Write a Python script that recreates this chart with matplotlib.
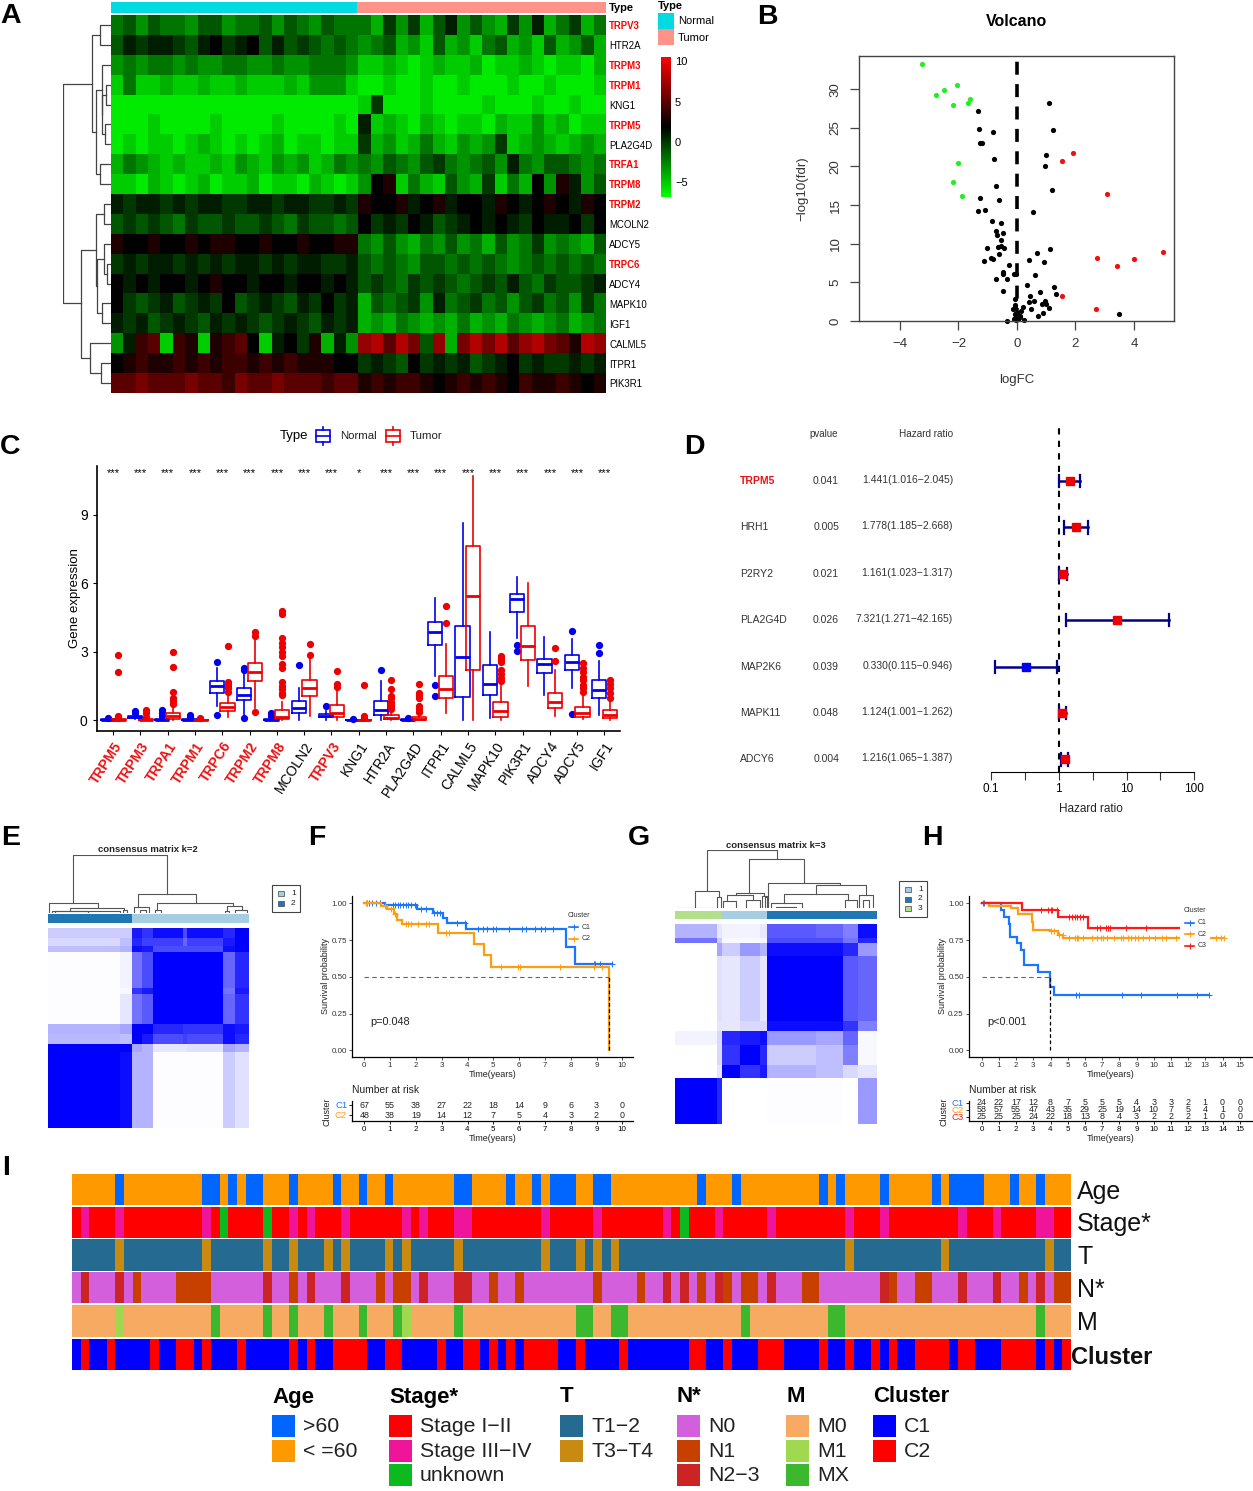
"""Multi-panel figure: heatmap, volcano, boxplots, forest, consensus maps, KM curves, clinical tracks."""
import numpy as np
import matplotlib
matplotlib.use("Agg")
import matplotlib.pyplot as plt
from matplotlib.colors import LinearSegmentedColormap, ListedColormap
from matplotlib.patches import Rectangle

plt.rcParams["font.family"] = ["Liberation Sans", "DejaVu Sans"]

W, H = 1253, 1491

# ---- A: heatmap
HEAT_GENES = ["TRPV3", "HTR2A", "TRPM3", "TRPM1", "KNG1", "TRPM5", "PLA2G4D", "TRFA1", "TRPM8", "TRPM2",
              "MCOLN2", "ADCY5", "TRPC6", "ADCY4", "MAPK10", "IGF1", "CALML5", "ITPR1", "PIK3R1"]
HEAT_RED = ["TRPV3", "TRPM3", "TRPM1", "TRPM5", "TRFA1", "TRPM8", "TRPM2", "TRPC6"]
HEAT = [
    [-2, -1, -3, -1, -2, -2, -3, -1, -1, -3, -2, -2, -1, -3, -1, -2, -3, -1, -2, -2, -2, -4, 0, -3, 0, -4, -1, 1, -3, -1, -3, -4, 0, -3, 1, -4, -2, 0, -4, -2],
    [-1, 1, 0, 1, 1, 0, -1, 1, 2, 0, 1, 2, -1, 1, -1, 0, -1, -2, -1, -2, -3, -2, -1, -4, -3, -5, -1, -4, -3, -5, -2, -1, -4, -3, -5, -1, -4, -3, -1, -4],
    [-3, -2, -3, -2, -2, -3, -2, -3, -3, -2, -2, -3, -3, -2, -3, -3, -2, -2, -2, -3, -5, -5, -4, -5, -6, -5, -4, -5, -5, -4, -6, -5, -5, -4, -5, -6, -5, -5, -6, -4],
    [-5, -2, -5, -5, -4, -5, -5, -4, -5, -5, -4, -5, -5, -5, -4, -5, -3, -3, -3, -5, -6, -6, -5, -6, -6, -5, -6, -6, -5, -6, -6, -6, -5, -6, -6, -5, -6, -6, -6, -5],
    [-6, -6, -6, -6, -6, -6, -6, -6, -6, -6, -6, -6, -6, -6, -6, -6, -6, -6, -6, -6, -5, 0, -6, -6, -6, -5, -6, -6, -6, -6, -5, -6, -6, -6, -5, -6, -6, -5, -6, -6],
    [-6, -6, -6, -5, -6, -6, -6, -6, -5, -6, -6, -6, -6, -5, -6, -6, -6, -6, -5, -6, 1, -5, -4, -5, -6, -4, -5, -6, -5, -5, -6, -4, -5, -5, -3, -5, -4, -6, -5, -5],
    [-6, -5, -6, -5, -5, -6, -5, -4, -5, -6, -5, -6, -5, -4, -6, -5, -5, -6, -5, -5, 0, -4, -3, -5, -4, -2, -4, -5, -3, -4, -3, 0, -5, -4, -3, -4, -5, -4, -3, -4],
    [-4, -2, -3, -4, -5, -4, -5, -5, -4, -5, -3, -4, -5, -3, -4, -3, -5, -4, -2, -3, -2, -3, -1, -2, -3, -1, 0, -2, -3, -2, -1, -3, 1, -2, -3, -1, -1, -2, -3, -2],
    [-5, -5, -6, -4, -5, -6, -5, -4, -6, -5, -5, -4, -6, -5, -5, -6, -4, -5, -6, -5, -3, 2, 3, -5, -2, -4, -5, -1, -3, -4, 0, -5, -2, -4, 2, -3, 3, 1, -3, -1],
    [1, 0, 1, 1, 0, 1, 0, 1, 1, 0, 0, 1, 1, 0, 1, 1, 0, 0, 1, 0, 3, 2, 2, 3, 1, 2, 3, 1, 2, 2, 1, 3, 2, 1, 2, 3, 2, 1, 3, 2],
    [-1, 0, -1, 0, -1, -2, 0, -1, -1, 0, -1, -1, 0, -1, -2, 0, -1, -1, -2, -1, 2, 0, 1, 0, 2, 1, -1, 0, 1, 2, 1, 2, 1, 0, 2, 1, 1, 2, 0, 2],
    [3, 2, 2, 3, 2, 2, 3, 2, 3, 3, 2, 2, 3, 2, 2, 3, 2, 2, 3, 3, -2, -3, -1, -3, -4, -2, -3, -1, -3, -2, -4, -1, -3, -2, 0, -3, -2, -3, -4, -1],
    [0, 1, 0, 1, 1, 0, 1, 0, 1, 0, 1, 1, 0, 1, 0, 1, 1, 0, 0, 1, -1, -2, -1, -2, -3, -1, -1, -2, -1, -2, -1, -2, -3, -2, -1, -2, -1, -2, -1, -2],
    [2, 1, 2, 1, 2, 2, 1, 2, 3, 2, 2, 1, 2, 2, 1, 2, 2, 1, 2, 1, -1, 0, -1, -2, 0, -1, 0, -1, -2, -1, 0, -1, 1, -1, -2, 0, -1, -1, 0, 1],
    [2, 0, -1, 0, 1, -1, 0, 1, 0, 2, -1, 0, 1, 0, -1, 1, 0, 2, 0, 1, -4, -1, -2, -1, 0, -3, 1, -2, -1, 0, -2, -1, -3, -1, 0, -2, -1, -3, 0, -2],
    [1, 0, 1, -1, 0, 1, 0, -1, 1, 0, 1, 0, -1, 0, 1, 0, -1, 1, 0, 1, -4, -3, -4, -2, -3, -4, -3, -4, -2, -4, -3, -4, -2, -3, -4, -3, -2, -4, -3, -2],
    [-3, 1, 4, 5, -5, 4, 3, -5, 3, 4, 5, 2, -5, 1, 2, 0, 3, -4, 1, -3, 7, 8, 5, 8, 6, -1, 7, -4, 6, 8, 6, 8, 5, 7, 8, 6, 5, 3, 8, 7],
    [2, 3, 4, 3, 3, 4, 3, 4, 3, 4, 4, 3, 4, 3, 4, 3, 3, 3, 2, 2, 0, 1, 0, -1, 2, 0, 1, 0, 1, -1, 0, 1, 2, 0, 1, 0, 0, 1, 0, 1],
    [5, 5, 6, 5, 5, 5, 6, 5, 5, 4, 6, 5, 5, 6, 5, 5, 5, 4, 5, 5, 3, 4, 3, 4, 4, 3, 2, 3, 4, 3, 4, 3, 2, 4, 3, 3, 4, 3, 2, 3],
]
# dendrogram joins: row a, row b, height a, height b, height of join (rows as index, height 0 at heatmap)
HEAT_LINKS = [
    (0, 1, 0, 0, 11), (3, 4, 0, 0, 5), (5, 6, 0, 0, 6), (3.5, 5.5, 5, 6, 9), (2, 4.5, 0, 9, 9.5),
    (7, 8, 0, 0, 11), (3.25, 7.5, 9.5, 11, 15), (0.5, 5.4, 11, 15, 19),
    (9, 10, 0, 0, 7), (12, 13, 0, 0, 4), (11, 12.5, 0, 4, 7.5), (14, 15, 0, 0, 9), (11.75, 14.5, 7.5, 9, 14),
    (9.5, 13.1, 7, 14, 15), (17, 18, 0, 0, 10), (16, 17.5, 0, 10, 21), (11.3, 16.75, 15, 21, 30),
    (2.95, 14, 19, 30, 48),
]

# ---- B: volcano
GREEN_FC = [-3.23, -2.77, -2.49, -2.04, -2.18, -1.68, -1.61, -2.02, -2.18, -1.87]
GREEN_P = [33.3, 29.2, 29.9, 30.5, 27.9, 28.2, 28.7, 20.5, 18.0, 16.2]
RED_FC = [1.91, 1.54, 3.08, 5.0, 4.0, 2.74, 3.42, 1.54, 2.7]
RED_P = [21.8, 20.7, 16.4, 8.9, 8.05, 8.2, 7.1, 3.3, 1.5]
BLACK_FC = [-1.33, 1.11, -1.29, -0.82, 1.23, -1.26, -1.21, 0.98, -0.79, 0.95, -0.71, 1.19, -1.26, -0.6, -1.08, -1.32,
            0.55, -0.85, -0.55, -0.72, -0.49, -0.67, -0.56, -1.04, -0.64, -0.56, -0.44, 1.13, 0.67, -0.62, -0.87, -0.82,
            -1.14, 0.4, 0.92, -0.28, -0.46, -0.47, -0.1, -0.02, 0.62, -0.7, -0.33, 0.33, 1.27, -0.49, 0.78, 1.35, 0.44,
            -0.07, 0.59, 0.41, 0.96, 0.84, 1.0, -0.07, -0.05, 0.2, 0.49, 1.11, -0.13, 0.14, 0.88, 0.71, 3.5, -0.34, 0.25,
            -0.08, -0.02, 0.04, 0.1, -0.05, 0.02, 0.12, -0.1, 0.05, 0.0, -0.04]
BLACK_P = [27.2, 28.2, 24.9, 24.4, 24.7, 23.1, 23.0, 21.5, 21.0, 20.1, 17.5, 17.0, 15.9, 15.7, 14.4, 14.2,
           14.1, 13.0, 12.7, 11.7, 11.4, 11.1, 10.5, 9.5, 9.55, 9.7, 9.5, 9.3, 8.8, 8.7, 8.1, 8.05,
           7.75, 7.9, 7.7, 7.2, 6.35, 6.1, 6.05, 6.1, 5.97, 5.5, 5.5, 4.67, 4.45, 3.9, 3.8, 3.5, 3.3,
           2.8, 2.6, 2.4, 2.55, 2.25, 2.25, 2.1, 1.8, 1.8, 1.6, 1.65, 1.5, 1.3, 1.0, 0.7, 0.87, 0.05, 0.1,
           0.9, 0.8, 0.6, 0.5, 0.4, 0.3, 0.7, 0.3, 0.2, 1.0, 0.1]

# ---- C: boxplots (q1, median, q3, low whisker, high whisker)
BOX_GENES = ["TRPM5", "TRPM3", "TRPA1", "TRPM1", "TRPC6", "TRPM2", "TRPM8", "MCOLN2", "TRPV3", "KNG1", "HTR2A",
             "PLA2G4D", "ITPR1", "CALML5", "MAPK10", "PIK3R1", "ADCY4", "ADCY5", "IGF1"]
BOX_RED = ["TRPM5", "TRPM3", "TRPA1", "TRPM1", "TRPC6", "TRPM2", "TRPM8", "TRPV3"]
BOX_STARS = ["***"] * 9 + ["*"] + ["***"] * 9
NORMAL_BOX = [(0, .02, .05, 0, .08), (.08, .12, .17, .05, .25), (0, .02, .05, 0, .1), (0, .02, .05, 0, .08),
              (1.2, 1.5, 1.72, .6, 2.3), (.9, 1.1, 1.4, .2, 2.1), (0, .02, .05, 0, .1), (.33, .52, .82, 0, 1.4),
              (.15, .2, .25, .02, .4), (0, .01, .02, 0, .03), (.22, .45, .85, 0, 1.7), (0, .01, .03, 0, .05),
              (3.3, 3.85, 4.3, 1.95, 5.35), (1.0, 2.75, 4.15, 0, 8.65), (1.08, 1.6, 2.4, .1, 3.85),
              (4.75, 5.3, 5.55, 3.6, 6.3), (2.05, 2.45, 2.7, 1.08, 3.65), (2.2, 2.55, 2.85, 1.4, 3.55),
              (.95, 1.3, 1.75, .22, 2.6)]
NORMAL_FLIERS = [[.1], [.3, .4], [.2, .3, .45], [.15, .22], [.22, 2.55], [.08, 2.2, 2.27], [.2, .3], [2.4], [.6], [.05],
                 [2.2], [.08], [1.05, 1.55], [], [], [3.05, 3.3], [], [.28, 3.9], [2.95, 3.3]]
TUMOR_BOX = [(0, .01, .03, 0, .06), (0, .02, .04, 0, .08), (.05, .2, .32, 0, .6), (0, .01, .02, 0, .03),
             (.4, .58, .75, .15, 1.15), (1.72, 2.1, 2.5, .55, 3.55), (.05, .13, .42, 0, .8), (1.05, 1.4, 1.78, .2, 2.7),
             (.12, .32, .68, 0, 1.35), (0, .01, .02, 0, .04), (.03, .08, .22, 0, .45), (.02, .05, .13, 0, .25),
             (.95, 1.35, 1.92, .3, 3.35), (2.2, 5.45, 7.65, 0, 10.7), (.15, .38, .78, 0, 1.6),
             (2.65, 3.25, 4.15, 1.5, 6.0), (.55, .8, 1.2, .2, 2.2), (.15, .3, .58, .05, 1.2), (.1, .22, .45, 0, .85)]
TUMOR_FLIERS = [[.1, .2, 2.1, 2.85], [.15, .3, .45], [.7, .85, .95, 1.25, 2.35, 3.0], [.08], [1.25, 1.4, 1.55, 1.65, 3.25],
                [.35, 3.7, 3.85], [1.1, 1.2, 1.35, 1.5, 1.65, 2.3, 2.45, 2.8, 3.0, 3.2, 3.4, 3.6, 4.65, 4.8], [2.85, 3.35],
                [1.45, 1.6, 2.15], [.1, .2, 1.55], [.5, .6, .7, .8, .95, 1.05, 1.35, 1.75],
                [.35, .5, .6, .95, 1.1, 1.2, 1.6], [4.25, 5.0], [], [1.7, 1.85, 2.0, 2.2, 2.55, 2.7, 2.8], [], [2.6, 3.15],
                [1.25, 1.4, 1.55, 1.75, 1.9, 2.1, 2.3, 2.5], [.95, 1.2, 1.4, 1.6, 1.75]]

# ---- D: forest
FOREST_GENES = ["TRPM5", "HRH1", "P2RY2", "PLA2G4D", "MAP2K6", "MAPK11", "ADCY6"]
FOREST_P = ["0.041", "0.005", "0.021", "0.026", "0.039", "0.048", "0.004"]
FOREST_HR = [1.441, 1.778, 1.161, 7.321, 0.330, 1.124, 1.216]
FOREST_LO = [1.016, 1.185, 1.023, 1.271, 0.115, 1.001, 1.065]
FOREST_HI = [2.045, 2.668, 1.317, 42.165, 0.946, 1.262, 1.387]
FOREST_TEXT = ["1.441(1.016\u22122.045)", "1.778(1.185\u22122.668)", "1.161(1.023\u22121.317)", "7.321(1.271\u221242.165)",
               "0.330(0.115\u22120.946)", "1.124(1.001\u22121.262)", "1.216(1.065\u22121.387)"]

# ---- E / G: consensus matrices, block edges in percent of samples
E_COLS = [0, 36, 42, 47, 52, 67, 69, 87, 93, 100]
E_ROWS = [0, 5, 9, 12, 30, 33, 48, 53, 58, 62, 100]
E_MAT = [[.2, .2, .9, .8, .95, .7, .95, .85, 1],
         [.15, .25, .85, .75, .75, .6, .75, .9, 1],
         [.25, .3, .95, .9, .7, .7, .7, .95, 1],
         [.01, .05, .55, .7, 1, 1, 1, .6, .85],
         [.01, .03, .8, .9, 1, 1, 1, .55, .9],
         [.01, .1, .55, .65, 1, 1, 1, .6, .8],
         [.3, .35, 1, 1, .85, .8, .8, .95, .9],
         [.28, .25, 1, .9, .7, .75, .7, .95, .85],
         [1, 1, .35, .3, .1, .1, .12, .35, .3],
         [1, .95, .3, .3, .01, .01, .01, .2, .12]]
E_BAR = [(0, 42, "#1F78B4"), (42, 100, "#A6CEE3")]
E_LINKS = [(12.4, 59.3, .17, .32, 1.0), (.5, 24.8, 0, .1, .17), (10.7, 37.9, .045, .058, .087), (3.6, 20, 0, .02, .04),
           (2, 36, 0, 0, .03), (37.5, 39.5, 0, 0, .058), (45, 73.6, .1, .18, .32), (43, 50, 0, .02, .1), (46, 49, 0, 0, .05),
           (54, 92, .05, .12, .18), (53, 56, 0, 0, .05), (89, 96.5, .04, .06, .12), (88, 90, 0, 0, .03), (93, 99, 0, 0, .06)]
G_COLS = [0, 20.6, 23.1, 32, 42, 45.7, 70, 83.3, 90.4, 100]
G_ROWS = [0, 7, 9.5, 16, 48.7, 53.7, 60.3, 70.3, 77, 100]
G_MAT = [[.3, .1, .05, .05, .1, .65, .6, .5, .95],
         [.55, .2, .03, .03, .05, .7, .7, .55, .85],
         [0, .35, .2, .4, .3, .95, .95, .85, .4],
         [0, .12, .1, .2, .1, 1, 1, .65, .6],
         [0, .1, .1, .15, .15, .95, .95, .8, .5],
         [.05, .15, .85, .9, .95, .4, .35, .6, .03],
         [0, .15, .8, 1, .85, .2, .25, .5, .03],
         [0, .1, 1, .8, .9, .3, .25, .15, .1],
         [1, .85, 0, 0, 0, .01, .01, 0, .4]]
G_BAR = [(0, 23.1, "#B2DF8A"), (23.1, 45.7, "#A6CEE3"), (45.7, 100, "#1F78B4")]
G_LINKS = [(15.7, 50.5, .29, .845, 1.0), (10, 22, .01, .2, .29), (1, 20, 0, 0, .01), (21, 23, 0, 0, .2),
           (36.8, 64, .27, .43, .845), (30, 44, .23, .22, .27), (25.6, 38.8, .12, .14, .23), (24, 30, .02, .03, .12),
           (35, 42, .02, .03, .14), (43, 46, 0, 0, .22), (44.5, 45.5, 0, 0, .2),
           (46.2, 81.7, .09, .4, .43), (70, 94.5, .24, .23, .4), (54, 85.5, .09, .14, .24), (47.5, 63, .03, .03, .09),
           (50, 60, 0, 0, .03), (84, 90, 0, .02, .14), (91, 98, .02, .02, .23), (93, 96, 0, 0, .14)]

# ---- F / H: survival
F_C1_T = [0, 0.8, 2.05, 2.65, 3.05, 3.2, 3.95, 7.8, 8.15, 9.6]
F_C1_S = [1.0, .99, .96, .935, .90, .865, .825, .705, .59, .59]
F_C2_T = [0, .65, .88, 1.15, 1.25, 1.45, 2.85, 4.25, 4.65, 4.9, 9.5, 9.5]
F_C2_S = [1.0, .98, .96, .93, .89, .86, .80, .725, .645, .565, .565, 0]
F_C1_CENS = [.1, .2, .3, .45, .6, 1.1, 1.2, 1.3, 1.4, 1.5, 1.6, 1.7, 1.8, 1.95, 2.2, 2.4, 2.7, 2.8, 2.95, 3.6, 3.9, 4.4, 4.6,
             4.75, 5.0, 5.1, 5.6, 6.1, 6.25, 6.6, 6.85, 7.0, 7.3, 8.9, 8.95, 9.15, 9.6]
F_C2_CENS = [.05, .1, .8, 1.05, 1.2, 1.6, 1.7, 1.8, 2.1, 2.4, 2.5, 3.15, 3.3, 5.3, 5.95, 6.05, 7.6, 8.9, 9.2]
F_RISK = {"C1": [67, 55, 38, 27, 22, 18, 14, 9, 6, 3, 0], "C2": [48, 38, 19, 14, 12, 7, 5, 4, 3, 2, 0]}
H_C1_T = [0, 1.15, 1.3, 1.6, 1.65, 2.05, 2.3, 2.45, 3.25, 3.95, 4.2, 13.2]
H_C1_S = [1.0, .955, .91, .86, .77, .73, .68, .58, .535, .43, .375, .375]
H_C2_T = [0, .4, 1.7, 2.1, 2.9, 3.0, 3.95, 4.45, 4.75, 14.1]
H_C2_S = [1.0, .985, .965, .925, .875, .82, .81, .785, .765, .765]
H_C3_T = [0, 2.35, 4.45, 6.2, 11.5]
H_C3_S = [1.0, .955, .91, .835, .835]
H_C1_CENS = [.05, .15, 5.5, 5.65, 8.15, 9.25, 11.35, 12.5, 13.2]
H_C2_CENS = [4, 4.2, 4.5, 4.7, 5.1, 5.4, 5.55, 5.6, 5.9, 6.4, 6.7, 6.95, 7.05, 7.3, 7.7, 8.1, 8.2, 8.5, 8.7, 8.9, 9.1, 9.4, 9.7,
             10.1, 10.5, 10.7, 11.3, 13.6, 13.9, 14.1]
H_C3_CENS = [3.45, 3.85, 4, 4.1, 4.4, 5.1, 5.25, 5.4, 5.55, 5.7, 5.9, 6.7, 6.9, 7.2, 7.35, 7.45, 8.4, 9.55]
H_RISK = {"C1": [24, 22, 17, 12, 8, 7, 5, 5, 5, 4, 3, 3, 2, 1, 0, 0],
          "C2": [58, 57, 55, 47, 43, 35, 29, 25, 19, 14, 10, 7, 5, 4, 1, 0],
          "C3": [25, 25, 25, 24, 22, 18, 13, 8, 4, 3, 2, 2, 2, 1, 0, 0]}
KM_COLORS = {"C1": "#1A75FF", "C2": "#FF9D12", "C3": "#FF1A1A"}

# ---- I: clinical tracks, 115 samples; lists hold the samples not in the main class
N_SAMPLES = 115
AGE_OLD = [5, 15, 16, 18, 20, 21, 25, 30, 33, 36, 44, 45, 50, 53, 55, 56, 57, 60, 61, 72, 76, 86, 88, 93, 99, 101, 102, 103,
           104, 108, 111]
STAGE_LATE = [1, 5, 15, 25, 27, 31, 38, 40, 44, 45, 54, 60, 68, 74, 80, 89, 93, 102, 106, 111, 112]
STAGE_UNK = [17, 22, 70]
T_LATE = [5, 15, 22, 25, 29, 31, 36, 38, 44, 54, 58, 60, 62, 89, 100, 112]
N1_IDX = [7, 12, 13, 14, 15, 25, 35, 37, 38, 48, 51, 60, 65, 72, 75, 77, 78, 84, 85, 94, 97, 98, 109, 113, 114]
N23_IDX = [1, 5, 22, 27, 31, 40, 44, 45, 68, 70, 74, 80, 93, 102, 106, 111]
M1_IDX = [5, 38]
MX_IDX = [16, 22, 25, 29, 33, 37, 44, 58, 59, 62, 63, 77, 87, 88, 111]
CLUSTER2 = [1, 4, 9, 12, 13, 15, 19, 25, 27, 30, 31, 32, 33, 36, 37, 42, 45, 46, 48, 50, 52, 53, 54, 55, 58, 63, 71, 72, 75, 79,
            80, 81, 86, 89, 92, 94, 97, 98, 99, 100, 102, 103, 107, 108, 109, 110, 112, 114]
TRACK_NAMES = ["Age", "Stage*", "T", "N*", "M", "Cluster"]
LEG_GROUPS = [("Age", [">60", "< =60"], ["#0066FF", "#FF9900"]),
              ("Stage*", ["Stage I\u2212II", "Stage III\u2212IV", "unknown"], ["#FF0000", "#F0149A", "#0CBA20"]),
              ("T", ["T1\u22122", "T3\u2212T4"], ["#246A91", "#C98A12"]),
              ("N*", ["N0", "N1", "N2\u22123"], ["#D35FDC", "#C84000", "#CC2424"]),
              ("M", ["M0", "M1", "MX"], ["#F7AB62", "#A0D850", "#3CB82F"]),
              ("Cluster", ["C1", "C2"], ["#0000FF", "#FF0000"])]


def px_ax(fig, x0, y0, x1, y1, **kw):
    """axes from pixel box, y measured from the top of the picture"""
    return fig.add_axes([x0 / W, 1 - y1 / H, (x1 - x0) / W, (y1 - y0) / H], **kw)


fig = plt.figure(figsize=(W / 100, H / 100), dpi=100)
ov = fig.add_axes([0, 0, 1, 1], zorder=20)
ov.set_xlim(0, W)
ov.set_ylim(H, 0)
ov.axis("off")
ov.patch.set_alpha(0)

for lab, lx, ly in [("A", 0, 16), ("B", 757, 17), ("C", 0, 447), ("D", 684, 447), ("E", 1, 838), ("F", 308, 838),
                    ("G", 628, 838), ("H", 922, 838), ("I", 2, 1168)]:
    ov.text(lx, ly, lab, fontsize=20.5, fontweight="bold", va="center", ha="left")

# ---- panel A
hm_cmap = LinearSegmentedColormap.from_list("gbr", ["#00FF00", "#000000", "#FF0000"])
ax = px_ax(fig, 111, 15, 606, 393)
ax.imshow(np.array(HEAT, dtype=float), aspect="auto", cmap=hm_cmap, vmin=-6.7, vmax=10.6, interpolation="nearest")
ax.axis("off")
ax = px_ax(fig, 111, 2, 606, 13)
ax.add_patch(Rectangle((0, 0), .497, 1, color="#00DAE0", lw=0))
ax.add_patch(Rectangle((.497, 0), .503, 1, color="#FF9289", lw=0))
ax.set_xlim(0, 1)
ax.set_ylim(0, 1)
ax.axis("off")
for i, g in enumerate(HEAT_GENES):
    red = g in HEAT_RED
    ov.text(609, 26.2 + i * 19.9, g, fontsize=6.9, va="center", color="red" if red else "black",
            fontweight="bold" if red else "normal")
ov.text(609, 8, "Type", fontsize=8, fontweight="bold", va="center")
ov.text(658, 6, "Type", fontsize=8, fontweight="bold", va="center")
ov.add_patch(Rectangle((658, 13), 16, 16, color="#00DAE0", lw=0))
ov.add_patch(Rectangle((658, 29), 16, 16, color="#FF9289", lw=0))
ov.text(678, 21, "Normal", fontsize=8, va="center")
ov.text(678, 38, "Tumor", fontsize=8, va="center")
ax = px_ax(fig, 661, 57, 671, 197)
ax.imshow(np.linspace(10.6, -6.7, 200)[:, None], aspect="auto", cmap=hm_cmap, vmin=-6.7, vmax=10.6,
          extent=[0, 1, -6.7, 10.6])
ax.axis("off")
for v in [10, 5, 0, -5]:
    ov.text(675, 143 - v * 8.1, str(v).replace("-", "\u2212"), fontsize=8, va="center")
ax = px_ax(fig, 63, 15, 111, 393)
for r0, r1, h0, h1, top in HEAT_LINKS:
    ax.plot([h0, top, top, h1], [r0, r0, r1, r1], color="#444444", lw=0.9)
ax.set_xlim(48, 0)
ax.set_ylim(18.5, -.5)
ax.axis("off")

# ---- panel B
ax = px_ax(fig, 859, 56, 1174, 321)
ax.scatter(BLACK_FC, BLACK_P, s=14, color="black", lw=0, clip_on=False)
ax.scatter(GREEN_FC, GREEN_P, s=14, color="#22EE22", lw=0)
ax.scatter(RED_FC, RED_P, s=14, color="#EE1111", lw=0, clip_on=False)
ax.plot([0, 0], [0, 33.8], color="black", lw=2.6, dashes=(3.6, 2.6))
ax.set_xlim(-5.4, 5.37)
ax.set_ylim(0, 34.3)
ax.set_xticks([-4, -2, 0, 2, 4])
ax.set_xticklabels(["\u22124", "\u22122", "0", "2", "4"])
ax.set_yticks([0, 5, 10, 15, 20, 25, 30])
ax.set_yticklabels([0, 5, 10, 15, 20, 25, 30], rotation=90, va="center")
ax.tick_params(length=6.5, width=0.9, labelsize=9.5, color="#444444", labelcolor="#333333", pad=6)
for s in ax.spines.values():
    s.set_color("#444444")
    s.set_linewidth(1.0)
ov.text(1017, 22, "Volcano", fontsize=11.5, fontweight="bold", ha="center", va="center")
ov.text(1017, 380, "logFC", fontsize=9.5, ha="center", va="center", color="#333333")
ov.text(802, 189, "\u2212log10(fdr)", fontsize=9.5, ha="center", va="center", rotation=90, color="#333333")

# ---- panel C
ax = px_ax(fig, 96.7, 466, 620, 731)
for boxes, fliers, off, col in [(NORMAL_BOX, NORMAL_FLIERS, -.197, "#0000EE"), (TUMOR_BOX, TUMOR_FLIERS, .197, "#EE0000")]:
    stats = [dict(q1=b[0], med=b[1], q3=b[2], whislo=b[3], whishi=b[4], fliers=f) for b, f in zip(boxes, fliers)]
    ax.bxp(stats, positions=np.arange(len(stats)) + off, widths=.525, showcaps=False, manage_ticks=False,
           boxprops=dict(color=col, lw=1.2), whiskerprops=dict(color=col, lw=1.2), medianprops=dict(color=col, lw=2),
           flierprops=dict(marker="o", markerfacecolor=col, markeredgecolor=col, markersize=4.2))
ax.set_xlim(-.6, 18.57)
ax.set_ylim(-.48, 11.15)
ax.set_xticks(range(len(BOX_GENES)))
ax.set_xticklabels(BOX_GENES, rotation=57, ha="right", rotation_mode="anchor", fontsize=10)
for t, g in zip(ax.get_xticklabels(), BOX_GENES):
    if g in BOX_RED:
        t.set_color("#EE1111")
        t.set_fontweight("bold")
ax.set_yticks([0, 3, 6, 9])
ax.tick_params(axis="y", labelsize=10, length=3)
ax.tick_params(axis="x", length=3, pad=3)
ax.spines[["top", "right"]].set_visible(False)
for s in ["left", "bottom"]:
    ax.spines[s].set_linewidth(1.2)
ax.set_ylabel("Gene expression", fontsize=9.5, labelpad=-0.5)
for i, st in enumerate(BOX_STARS):
    ax.text(i, 10.85, st, ha="center", va="center", fontsize=8)
ov.text(280, 436, "Type", fontsize=9.5, va="center")
for bx, col, name in [(316, "#0000EE", "Normal"), (386, "#EE0000", "Tumor")]:
    ov.add_patch(Rectangle((bx, 430), 14, 12, fill=False, ec=col, lw=1.2))
    ov.plot([bx, bx + 14], [436, 436], color=col, lw=1.2)
    ov.plot([bx + 7, bx + 7], [427, 430], color=col, lw=1.2)
    ov.plot([bx + 7, bx + 7], [442, 445], color=col, lw=1.2)
    ov.text(bx + 24, 436, name, fontsize=8.2, va="center", color="#222222")

# ---- panel D
x_one, x_dec = 1058.8, 67.7
ax = px_ax(fig, 985, 424, 1200, 772)
ax.set_xscale("log")
ax.set_xlim(10 ** ((985 - x_one) / x_dec), 10 ** ((1200 - x_one) / x_dec))
ax.set_ylim(6.27, -1.23)
for i, (hr, lo, hi) in enumerate(zip(FOREST_HR, FOREST_LO, FOREST_HI)):
    ax.plot([lo, hi], [i, i], color="#00008B", lw=1.8)
    ax.plot([lo, lo], [i - .13, i + .13], color="#00008B", lw=1.6)
    ax.plot([hi, hi], [i - .13, i + .13], color="#00008B", lw=1.6)
    ax.plot([hr], [i], marker="s", ms=6.2, color="#EE0000" if hr > 1 else "#0000EE", zorder=5)
ax.axvline(1, color="black", lw=1.5, dashes=(3, 3), zorder=1)
ax.set_xticks([.1, .316, 1, 3.16, 10, 31.6, 100])
ax.set_xticklabels(["0.1", "", "1", "", "10", "", "100"])
ax.minorticks_off()
ax.tick_params(axis="x", length=6, width=.8, labelsize=8.5, color="#333333", pad=2)
ax.set_yticks([])
ax.patch.set_alpha(0)
ax.spines[["top", "right", "left"]].set_visible(False)
ax.spines["bottom"].set_bounds(.1, 100)
ax.spines["bottom"].set_linewidth(.8)
ov.text(1091, 809, "Hazard ratio", fontsize=8.5, ha="center", va="center", color="#222222")
ov.text(824, 434, "pvalue", fontsize=7, ha="center", va="center", color="#333333")
ov.text(953, 434, "Hazard ratio", fontsize=7.2, ha="right", va="center", color="#333333")
for i, g in enumerate(FOREST_GENES):
    y = 481 + 46.4 * i
    first = g == "TRPM5"
    ov.text(740, y, g, fontsize=7.5, va="center", color="#EE1111" if first else "#333333",
            fontweight="bold" if first else "normal")
    ov.text(839, y, FOREST_P[i], fontsize=7.5, va="center", ha="right", color="#333333")
    ov.text(953, y - 1, FOREST_TEXT[i], fontsize=7.5, va="center", ha="right", color="#333333")


# ---- panels E, G
def consensus(box, bar_y, dend_y, cols, rows, mat, bar, links, title, title_xy, leg_box, leg_cols):
    x0, y0, x1, y1 = box
    blue = LinearSegmentedColormap.from_list("wb", ["#FFFFFF", "#0000FF"])
    a = px_ax(fig, x0, y0, x1, y1)
    a.pcolormesh(cols, rows, np.array(mat), cmap=blue, vmin=0, vmax=1)
    a.set_ylim(100, 0)
    a.axis("off")
    a = px_ax(fig, x0, bar_y[0], x1, bar_y[1])
    for b0, b1, c in bar:
        a.add_patch(Rectangle((b0, 0), b1 - b0, 1, color=c, lw=0))
    a.set_xlim(0, 100)
    a.set_ylim(0, 1)
    a.axis("off")
    a = px_ax(fig, x0, dend_y[0], x1, dend_y[1])
    for p0, p1, h0, h1, top in links:
        a.plot([p0, p0, p1, p1], [h0, top, top, h1], color="#555555", lw=.8)
    a.set_xlim(0, 100)
    a.set_ylim(0, 1)
    a.axis("off")
    ov.text(title_xy[0], title_xy[1], title, fontsize=6.8, fontweight="bold", ha="center", va="center", color="#222222")
    lx0, ly0, lx1, ly1 = leg_box
    ov.add_patch(Rectangle((lx0, ly0), lx1 - lx0, ly1 - ly0, fill=False, ec="#444444", lw=.8))
    step = (ly1 - ly0 - 8) / len(leg_cols)
    for k, c in enumerate(leg_cols):
        yy = ly0 + 4 + step * (k + .5)
        ov.add_patch(Rectangle((lx0 + 6, yy - 2.5), 6, 5, fc=c, ec="#444444", lw=.5))
        ov.text(lx0 + 19, yy, str(k + 1), fontsize=6, va="center", color="#222222")


consensus((48, 928, 249, 1128), (914, 923), (855, 913), E_COLS, E_ROWS, E_MAT, E_BAR, E_LINKS, "consensus matrix k=2",
          (148, 850), (272, 885, 300, 912), ["#A6CEE3", "#1F78B4"])
consensus((675, 924, 877, 1124), (911, 919), (850.3, 908.3), G_COLS, G_ROWS, G_MAT, G_BAR, G_LINKS, "consensus matrix k=3",
          (776, 846), (899, 881, 927, 917), ["#A6CEE3", "#1F78B4", "#B2DF8A"])


# ---- panels F, H
def km_panel(left, xlim_px, x_zero, x_step, curves, med_h, med_v, pval, pval_t, ticks, risk, risk_y, leg, leg_step, hide=None):
    right = xlim_px
    xl = ((left - x_zero) / x_step, (right - x_zero) / x_step)
    a = px_ax(fig, left, 896, right, 1057)
    for name, ts, ss, cens in curves:
        col = KM_COLORS[name]
        a.step(ts, ss, where="post", color=col, lw=1.6, solid_joinstyle="miter")
        idx = np.searchsorted(ts, cens, side="right") - 1
        a.plot(cens, np.array(ss)[np.clip(idx, 0, len(ss) - 1)], ls="", marker="+", ms=4.5, mew=.7, color=col)
    a.plot([0, med_h], [.5, .5], color="#666666", lw=.8, dashes=(4, 3))
    a.plot([med_v, med_v], [0, .5], color="black", lw=.9, dashes=(3, 2), zorder=5)
    if hide:
        a.add_patch(Rectangle((hide[0], hide[2]), hide[1] - hide[0], hide[3] - hide[2], color="white", lw=0, zorder=6))
    a.set_xlim(*xl)
    a.set_ylim(-.046, 1.05)
    a.set_xticks(ticks)
    a.set_yticks([0, .25, .5, .75, 1])
    a.set_yticklabels(["0.00", "0.25", "0.50", "0.75", "1.00"])
    a.tick_params(labelsize=5.8, length=2, width=.6, pad=1.5, colors="#333333")
    a.spines[["top", "right"]].set_visible(False)
    a.spines["left"].set_linewidth(.9)
    a.spines["bottom"].set_linewidth(.9)
    a.set_xlabel("Time(years)", fontsize=6.5, labelpad=1, color="#222222")
    a.set_ylabel("Survival probability", fontsize=6.5, labelpad=1, color="#222222")
    a.text(pval_t, .195, pval, fontsize=7.8, va="center", color="#222222")
    # legend inside the panel
    lx, ly = leg
    ov.text(lx, ly, "Cluster", fontsize=5, va="center", color="#333333")
    for k, (name, _, _, _) in enumerate(curves):
        yy = ly + leg_step * (k + 1)
        ov.plot([lx + 1, lx + 10], [yy, yy], color=KM_COLORS[name], lw=1.2)
        ov.plot([lx + 5.5], [yy], marker="+", ms=4, mew=.7, color=KM_COLORS[name])
        ov.text(lx + 14, yy, name, fontsize=5, va="center", color="#333333")
    # risk table
    names = list(risk)
    a = px_ax(fig, left, 1101, right, 1120.7)
    for name, yy in zip(names, risk_y):
        frac = (1120.7 - yy) / (1120.7 - 1101)
        for t, n in zip(ticks, risk[name]):
            a.text(t, frac, str(n), transform=a.get_xaxis_transform(), ha="center", va="center", fontsize=6.4, color="#222222")
    a.set_xlim(*xl)
    a.set_ylim(0, 1)
    a.set_xticks(ticks)
    a.set_yticks([(1120.7 - yy) / (1120.7 - 1101) for yy in risk_y])
    a.set_yticklabels(names)
    a.tick_params(labelsize=5.8, length=2, width=.6, pad=1.5)
    a.tick_params(axis="y", labelsize=6.8)
    for lab, name in zip(a.get_yticklabels(), names):
        lab.set_color(KM_COLORS[name])
    a.spines[["top", "right"]].set_visible(False)
    a.spines["bottom"].set_linewidth(.9)
    a.spines["left"].set_linewidth(.9)
    a.set_xlabel("Time(years)", fontsize=6.5, labelpad=1, color="#222222")
    ov.text(left, 1090, "Number at risk", fontsize=7.4, va="center", color="#222222")
    ov.text(left - 25, 1112, "Cluster", fontsize=6.4, rotation=90, ha="center", va="center", color="#222222")


km_panel(352, 633, 364.3, 25.8,
         [("C1", F_C1_T, F_C1_S, F_C1_CENS), ("C2", F_C2_T, F_C2_S, F_C2_CENS)],
         9.5, 9.5, "p=0.048", .22, list(range(11)), F_RISK, [1105, 1115], (568, 915.7), 11.6)
km_panel(968.7, 1253, 981.7, 17.2,
         [("C1", H_C1_T, H_C1_S, H_C1_CENS), ("C2", H_C2_T, H_C2_S, H_C2_CENS), ("C3", H_C3_T, H_C3_S, H_C3_CENS)],
         3.95, 3.95, "p<0.001", .3, list(range(16)), H_RISK, [1102.7, 1109.5, 1116.7], (1184, 911), 11.5,
         hide=(11.55, 13.3, .7, .98))

# ---- panel I
age = np.zeros(N_SAMPLES, dtype=int)
age[AGE_OLD] = 1
stage = np.zeros(N_SAMPLES, dtype=int)
stage[STAGE_LATE] = 1
stage[STAGE_UNK] = 2
tcat = np.zeros(N_SAMPLES, dtype=int)
tcat[T_LATE] = 1
ncat = np.zeros(N_SAMPLES, dtype=int)
ncat[N1_IDX] = 1
ncat[N23_IDX] = 2
mcat = np.zeros(N_SAMPLES, dtype=int)
mcat[M1_IDX] = 1
mcat[MX_IDX] = 2
clus = np.zeros(N_SAMPLES, dtype=int)
clus[CLUSTER2] = 1
track_vals = [age, stage, tcat, ncat, mcat, clus]
track_cols = [["#FF9900", "#0066FF"], LEG_GROUPS[1][2], LEG_GROUPS[2][2], LEG_GROUPS[3][2], LEG_GROUPS[4][2], LEG_GROUPS[5][2]]
track_y = [(1174, 1205), (1206.5, 1237.5), (1239, 1271), (1272, 1303.5), (1305, 1337), (1338.5, 1370)]
for vals, cols, (y0, y1), name in zip(track_vals, track_cols, track_y, TRACK_NAMES):
    a = px_ax(fig, 72, y0, 1071, y1)
    a.imshow(vals[None, :], aspect="auto", cmap=ListedColormap(cols), vmin=-.5, vmax=len(cols) - .5, interpolation="nearest")
    a.axis("off")
    bold = name == "Cluster"
    ov.text(1071 if bold else 1077, (y0 + y1) / 2 + (3 if bold else 2), name, fontsize=17 if bold else 18, va="center",
            fontweight="bold" if bold else "normal", color="#111111")

for (title, labs, cols), gx in zip(LEG_GROUPS, [272, 389, 560, 677, 786, 873]):
    ov.text(gx, 1397, title, fontsize=16, fontweight="bold", va="center")
    for k, (lab, col) in enumerate(zip(labs, cols)):
        yy = 1415 + 24.6 * k
        ov.add_patch(Rectangle((gx, yy), 23, 22, color=col, lw=0))
        ov.text(gx + 31, yy + 11.5, lab, fontsize=15.3, va="center", color="#222222")

fig.savefig("out.png", dpi=100)
